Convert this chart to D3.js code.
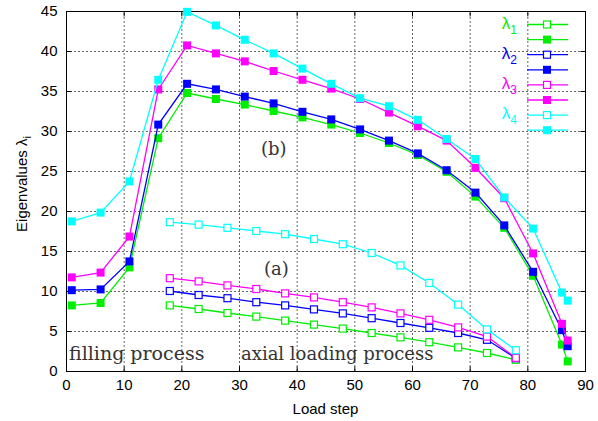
<!DOCTYPE html>
<html>
<head>
<meta charset="utf-8">
<script src="https://cdn.jsdelivr.net/npm/d3@7"></script>
<style>
  body { margin: 0; background: #fff; }
  svg { display: block; }
</style>
</head>
<body>
<svg id="svg" width="598" height="421"></svg>
<script>
// filling process (solid markers)
var fillSteps = [1, 6, 11, 16, 21, 26, 31, 36, 41, 46, 51, 56, 61, 66, 71, 76, 81, 86, 87];
var fillL1 = [8.2, 8.5, 12.95, 29.1, 34.75, 34.0, 33.3, 32.5, 31.7, 30.8, 29.75, 28.5, 27.0, 24.9, 21.8, 17.9, 11.9, 3.3, 1.2];
var fillL2 = [10.1, 10.2, 13.7, 30.8, 35.9, 35.2, 34.3, 33.45, 32.4, 31.45, 30.2, 28.8, 27.2, 25.1, 22.3, 18.2, 12.4, 5.1, 3.1];
var fillL3 = [11.7, 12.3, 16.8, 35.2, 40.7, 39.7, 38.7, 37.5, 36.4, 35.3, 34.0, 32.3, 30.6, 28.8, 25.4, 21.6, 14.7, 5.9, 3.8];
var fillL4 = [18.7, 19.8, 23.7, 36.4, 44.9, 43.2, 41.4, 39.7, 37.8, 35.9, 34.1, 33.1, 31.4, 29.0, 26.5, 21.7, 17.8, 9.8, 8.8];

// axial loading process (open markers)
var loadSteps = [18, 23, 28, 33, 38, 43, 48, 53, 58, 63, 68, 73, 78];
var loadL1 = [8.2, 7.75, 7.25, 6.8, 6.3, 5.8, 5.3, 4.75, 4.2, 3.6, 2.95, 2.25, 1.4];
var loadL2 = [10.0, 9.5, 9.1, 8.6, 8.2, 7.7, 7.2, 6.6, 6.0, 5.4, 4.75, 3.9, 1.6];
var loadL3 = [11.6, 11.2, 10.7, 10.25, 9.7, 9.2, 8.6, 7.95, 7.2, 6.4, 5.45, 4.3, 1.65];
var loadL4 = [18.6, 18.3, 17.9, 17.5, 17.1, 16.5, 15.85, 14.75, 13.2, 11.0, 8.3, 5.2, 2.6];

var xTicks = [0, 10, 20, 30, 40, 50, 60, 70, 80, 90];
var yTicks = [0, 5, 10, 15, 20, 25, 30, 35, 40, 45];
var seriesNames = ["1", "2", "3", "4"];
var colors = ["#00ee00", "#0000ff", "#ff00ff", "#00ffff"];

var svg = d3.select("#svg");
var padding = { top: 11, right: 13, bottom: 50, left: 66 };
var W = 598, H = 421;

var xScale = d3.scaleLinear().domain([0, 90]).range([padding.left, W - padding.right]);
var yScale = d3.scaleLinear().domain([0, 45]).range([H - padding.bottom, padding.top]);

var pLeft = padding.left, pRight = W - padding.right;
var pTop = padding.top, pBottom = H - padding.bottom;

//grid
var gridX = svg.append("g").attr("class", "grid")
  .attr("transform", "translate(0," + pBottom + ")")
  .call(d3.axisBottom(xScale).tickValues(xTicks.slice(1, -1)).tickSize(-(pBottom - pTop)).tickFormat(""));
var gridY = svg.append("g").attr("class", "grid")
  .attr("transform", "translate(" + pLeft + ",0)")
  .call(d3.axisLeft(yScale).tickValues(yTicks.slice(1, -1)).tickSize(-(pRight - pLeft)).tickFormat(""));
svg.selectAll(".grid .domain").remove();
svg.selectAll(".grid line").attr("stroke", "#666").attr("stroke-width", 1).attr("stroke-dasharray", "2,2");

//axes
var fontAxis = "'Liberation Sans', Arial, sans-serif";
var xAxis = svg.append("g")
  .attr("transform", "translate(0," + (pBottom + 0.5) + ")")
  .call(d3.axisBottom(xScale).tickValues(xTicks).tickSizeInner(-5).tickSizeOuter(0).tickPadding(8));
var yAxis = svg.append("g")
  .attr("transform", "translate(" + (pLeft + 0.5) + ",0)")
  .call(d3.axisLeft(yScale).tickValues(yTicks).tickSizeInner(-5).tickSizeOuter(0).tickPadding(9));
var xTop = svg.append("g")
  .attr("transform", "translate(0," + (pTop + 0.5) + ")")
  .call(d3.axisTop(xScale).tickValues(xTicks).tickSizeInner(-5).tickSizeOuter(0).tickFormat(""));
var yRight = svg.append("g")
  .attr("transform", "translate(" + (pRight + 0.5) + ",0)")
  .call(d3.axisRight(yScale).tickValues(yTicks).tickSizeInner(-5).tickSizeOuter(0).tickFormat(""));
[xAxis, yAxis, xTop, yRight].forEach(function (g) {
  g.select(".domain").remove();
  g.selectAll("line").attr("stroke", "#000");
  g.selectAll("text").attr("font-family", fontAxis).attr("font-size", 15).attr("fill", "#000");
});

//frame
svg.append("rect")
  .attr("x", pLeft + 0.5).attr("y", pTop + 0.5)
  .attr("width", pRight - pLeft).attr("height", pBottom - pTop)
  .attr("fill", "none").attr("stroke", "#000").attr("stroke-width", 1);

//annotation text
var serif = "'DejaVu Serif', 'Liberation Serif', serif";
function note(x, y, txt, sz) {
  svg.append("text").attr("x", x).attr("y", y).attr("font-family", serif)
    .attr("font-size", sz).attr("fill", "#333").text(txt);
}
note(261, 155, "(b)", 18);
note(264, 275, "(a)", 18);
note(69, 360, "filling process", 19);
note(241, 360, "axial loading process", 18);

//series
var line = d3.line().x(function (d) { return xScale(d[0]); }).y(function (d) { return yScale(d[1]); });
var fillSeries = [fillL1, fillL2, fillL3, fillL4];
var loadSeries = [loadL1, loadL2, loadL3, loadL4];

function drawSeries(steps, vals, color, filled) {
  var pts = steps.map(function (s, i) { return [s, vals[i]]; });
  var g = svg.append("g");
  g.append("path").attr("d", line(pts)).attr("fill", "none").attr("stroke", color).attr("stroke-width", 1.3);
  var sz = filled ? 8 : 7;
  g.selectAll("rect").data(pts).enter().append("rect")
    .attr("x", function (d) { return xScale(d[0]) - sz / 2; })
    .attr("y", function (d) { return yScale(d[1]) - sz / 2; })
    .attr("width", sz).attr("height", sz)
    .attr("fill", filled ? color : "#fff")
    .attr("stroke", color).attr("stroke-width", filled ? 0 : 1.2);
}
for (var k = 0; k < 4; k++) {
  drawSeries(loadSteps, loadSeries[k], colors[k], false);
  drawSeries(fillSteps, fillSeries[k], colors[k], true);
}

//legend
var legend = svg.append("g");
for (var k = 0; k < 4; k++) {
  for (var j = 0; j < 2; j++) {
    var y = 24.5 + (k * 2 + j) * 15.1;
    legend.append("line").attr("x1", 527).attr("x2", 568).attr("y1", y).attr("y2", y)
      .attr("stroke", colors[k]).attr("stroke-width", 1.3);
    var sz = j === 0 ? 7 : 8;
    legend.append("rect").attr("x", 547 - sz / 2).attr("y", y - sz / 2).attr("width", sz).attr("height", sz)
      .attr("fill", j === 0 ? "#fff" : colors[k]).attr("stroke", colors[k]).attr("stroke-width", j === 0 ? 1.2 : 0);
    if (j === 0) {
      var t = legend.append("text").attr("x", 517).attr("y", y + 4).attr("text-anchor", "end")
        .attr("font-family", fontAxis).attr("font-size", 17).attr("fill", colors[k]);
      t.append("tspan").text("λ");
      t.append("tspan").attr("font-size", 12).attr("dy", 5).text(seriesNames[k]);
    }
  }
}

//axis labels
svg.append("text").attr("x", (pLeft + pRight) / 2).attr("y", 414).attr("text-anchor", "middle")
  .attr("font-family", fontAxis).attr("font-size", 15).text("Load step");
var yl = svg.append("text").attr("transform", "translate(27,184) rotate(-90)")
  .attr("text-anchor", "middle").attr("font-family", fontAxis).attr("font-size", 15);
yl.append("tspan").text("Eigenvalues λ");
yl.append("tspan").attr("font-size", 11).attr("dy", 4).text("i");
</script>
</body>
</html>
